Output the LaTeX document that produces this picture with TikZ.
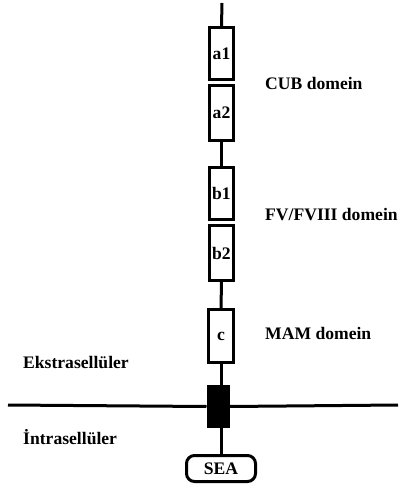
\documentclass[tikz,border=0pt]{standalone}
\usepackage{fontspec}
\setmainfont{Liberation Serif}
\begin{document}
\begin{tikzpicture}[x=1pt,y=-1pt,
  every node/.style={font=\fontsize{17.6}{20}\selectfont\bfseries},
  dom/.style={draw, line width=3pt, minimum width=24pt, inner sep=0pt},
  lbl/.style={anchor=west, inner sep=0pt},
  stem/.style={line width=3pt}]
\useasboundingbox (0,0) rectangle (402,493);
\coordinate (top) at (222,3);
\node[dom, minimum height=52pt] (a1) at (221.5,53.5) {a1};
\node[dom, minimum height=55pt] (a2) at (221.5,113) {a2};
\node[dom, minimum height=52pt] (b1) at (221.5,193.5) {b1};
\node[dom, minimum height=55pt] (b2) at (221.5,253) {b2};
\node[dom, minimum width=25pt, minimum height=53pt] (c) at (221,336) {c};
\node[fill=black, draw, line width=1pt, minimum width=22pt, minimum height=42pt, inner sep=0pt] (tm) at (218,406.5) {};
\node[draw, line width=3pt, rounded corners=8pt, minimum width=69pt, minimum height=26pt, inner sep=0pt] (sea) at (221,468.5) {SEA};
\coordinate (mL) at (8,405);
\coordinate (mR) at (398,405);
\draw[stem] (top) -- (a1.north);
\draw[stem] (a2.south) -- (b1.north);
\draw[stem] (b2.south) -- (c.north);
\draw[stem] (c.south) -- (c.south |- tm.north);
\draw[stem] (c.south |- tm.south) -- (sea.north -| c.south);
\draw[line width=3pt] (mL) -- (tm.west);
\draw[line width=3pt] (tm.east) -- (mR);
\node[lbl] (cub) at (265,83) {CUB domein};
\node[lbl] (fv) at (265,215) {FV/FVIII domein};
\node[lbl] (mam) at (265,333) {MAM domein};
\node[lbl] (ekstra) at (23,362) {Ekstrasellüler};
\node[lbl] (intra) at (23,437) {İntrasellüler};
\end{tikzpicture}
\end{document}
